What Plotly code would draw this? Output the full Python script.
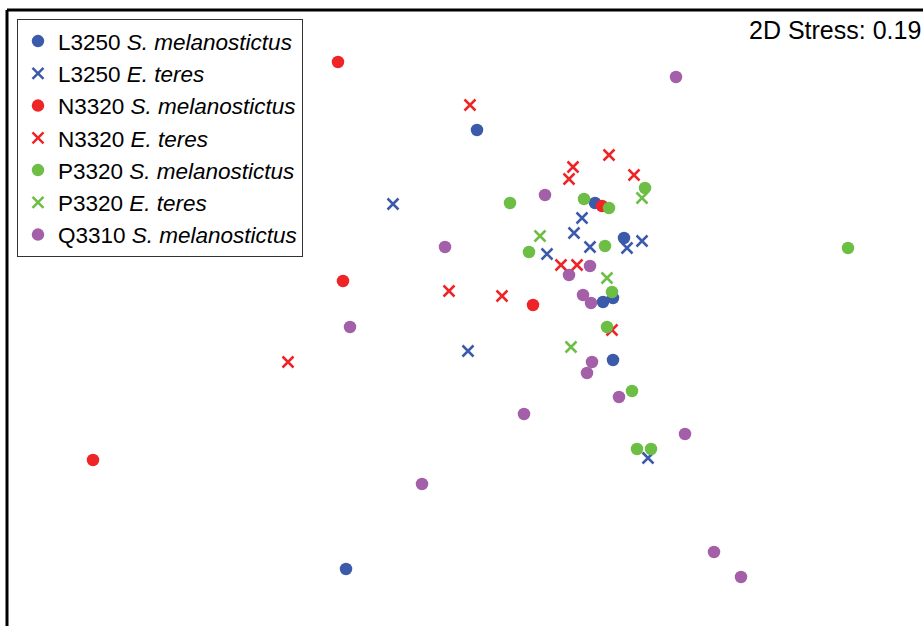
import plotly.graph_objects as go

# NMDS ordination coordinates (arbitrary units; y up)
L3250_S_x = [477, 595, 624, 603, 613, 613, 346]
L3250_S_y = [496, 423, 388, 324, 328, 266, 57]

L3250_E_x = [393, 582, 574, 590, 627, 642, 547, 468, 648]
L3250_E_y = [422, 408, 393, 379, 378, 385, 372, 275, 168]

N3320_S_x = [338, 602, 343, 533, 93]
N3320_S_y = [564, 420, 345, 321, 166]

N3320_E_x = [470, 609, 573, 569, 634, 561, 577, 449, 502, 612, 288]
N3320_E_y = [521, 471, 459, 447, 451, 361, 361, 335, 330, 296, 264]

P3320_S_x = [510, 584, 609, 645, 605, 529, 612, 607, 632, 637, 651, 848]
P3320_S_y = [423, 427, 418, 438, 380, 374, 334, 299, 235, 177, 177, 378]

P3320_E_x = [642, 540, 607, 571]
P3320_E_y = [428, 390, 348, 279]

Q3310_S_x = [676, 545, 445, 590, 569, 583, 591, 350, 592, 587, 619, 524, 685, 422, 714, 741]
Q3310_S_y = [549, 431, 379, 360, 351, 331, 323, 299, 264, 253, 229, 212, 192, 142, 74, 49]

stress_label = "2D Stress: 0.19"

BLUE = "#3B5BAA"
RED = "#EE2427"
GREEN = "#6CBE45"
PURPLE = "#A35FA8"

series = [
    ("L3250 <i>S. melanostictus</i>", L3250_S_x, L3250_S_y, BLUE, "circle"),
    ("L3250 <i>E. teres</i>", L3250_E_x, L3250_E_y, BLUE, "x"),
    ("N3320 <i>S. melanostictus</i>", N3320_S_x, N3320_S_y, RED, "circle"),
    ("N3320 <i>E. teres</i>", N3320_E_x, N3320_E_y, RED, "x"),
    ("P3320 <i>S. melanostictus</i>", P3320_S_x, P3320_S_y, GREEN, "circle"),
    ("P3320 <i>E. teres</i>", P3320_E_x, P3320_E_y, GREEN, "x"),
    ("Q3310 <i>S. melanostictus</i>", Q3310_S_x, Q3310_S_y, PURPLE, "circle"),
]

fig = go.Figure()
for i, (name, xs, ys, col, sym) in enumerate(series):
    if sym == "circle":
        marker = dict(symbol="circle", size=12.5, color=col, line=dict(width=0))
    else:
        marker = dict(symbol="x-thin", size=11, color=col, line=dict(width=2.5, color=col))
    fig.add_trace(go.Scatter(x=xs, y=ys, mode="markers", name=name, marker=marker,
                             legendgroup=f"g{i}", cliponaxis=False))

FONT = "Liberation Sans, Arial, sans-serif"

fig.update_layout(
    width=923, height=626,
    margin=dict(l=7, r=0, t=10, b=0),
    paper_bgcolor="white", plot_bgcolor="white",
    xaxis=dict(range=[7, 923], visible=False, showgrid=False, zeroline=False),
    yaxis=dict(range=[0, 616], visible=False, showgrid=False, zeroline=False),
    legend=dict(x=0.0109, y=0.9854, xanchor="left", yanchor="top",
                font=dict(family=FONT, size=22.5, color="black"),
                bordercolor="#333333", borderwidth=1, bgcolor="white",
                tracegroupgap=0, itemwidth=30),
    shapes=[
        dict(type="line", xref="paper", yref="paper", x0=0, x1=1.05, y0=1, y1=1,
             line=dict(color="black", width=3)),
        dict(type="line", xref="paper", yref="paper", x0=0, x1=0, y0=-0.05, y1=1,
             line=dict(color="black", width=3)),
    ],
    annotations=[
        dict(text=stress_label, xref="paper", yref="paper", x=0.808, y=0.9675,
             xanchor="left", yanchor="middle", showarrow=False,
             font=dict(family=FONT, size=25, color="black")),
    ],
    showlegend=True,
)

fig.write_html("out.html", config={"displayModeBar": False},
               post_script="document.body.style.margin='0';document.body.style.overflow='hidden';")
